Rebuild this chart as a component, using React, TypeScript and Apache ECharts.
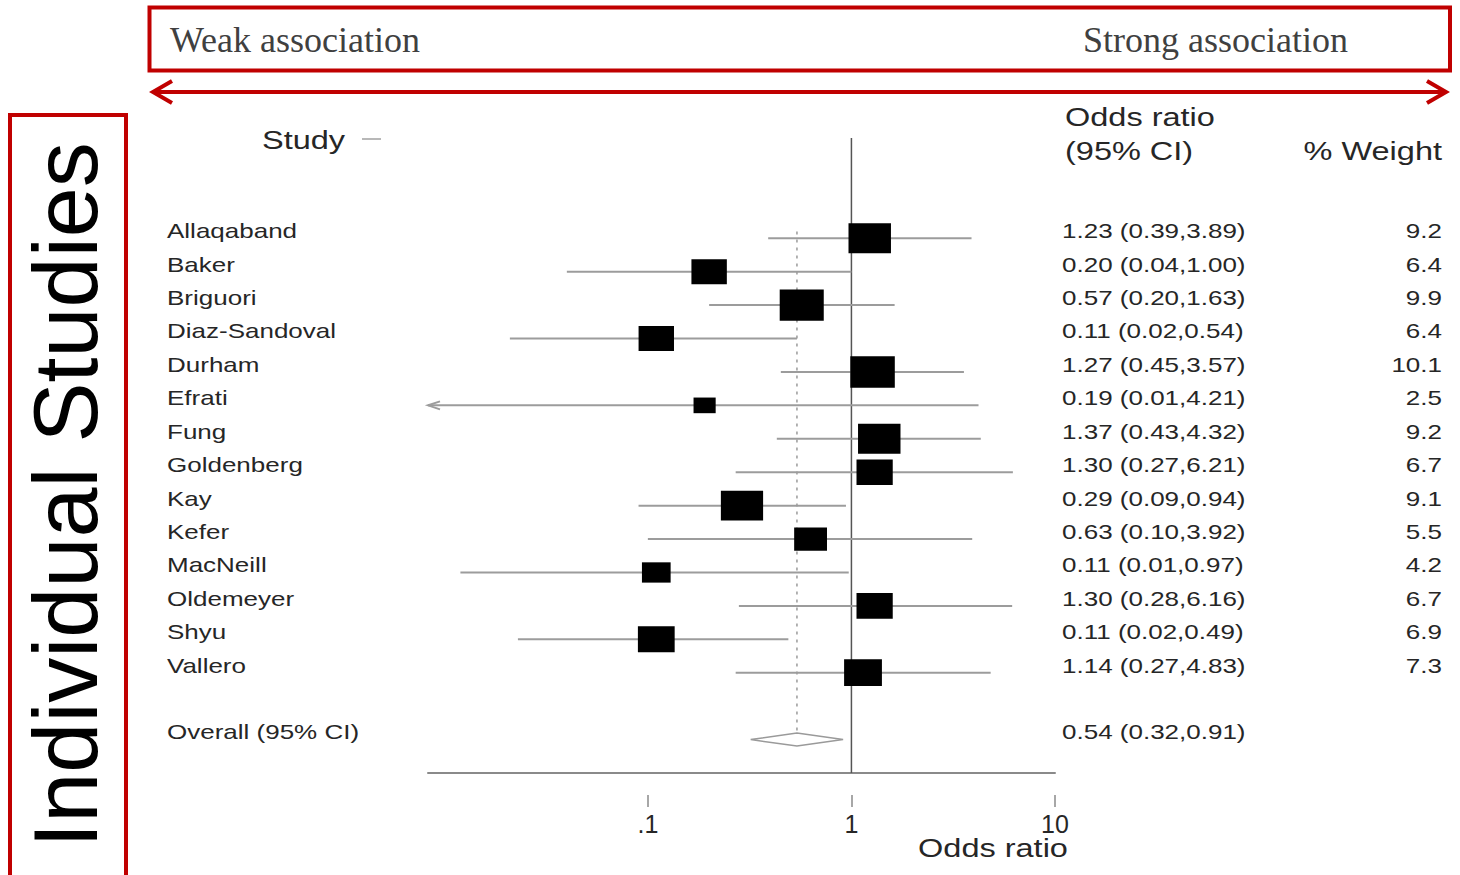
import React, { useEffect, useRef } from "react";
import * as echarts from "echarts";

// ---------- data ----------
const studies = [
  "Allaqaband", "Baker", "Briguori", "Diaz-Sandoval", "Durham", "Efrati", "Fung",
  "Goldenberg", "Kay", "Kefer", "MacNeill", "Oldemeyer", "Shyu", "Vallero",
];
const oddsRatios = [1.23, 0.2, 0.57, 0.11, 1.27, 0.19, 1.37, 1.3, 0.29, 0.63, 0.11, 1.3, 0.11, 1.14];
const ciLower = [0.39, 0.04, 0.2, 0.021, 0.45, 0.008, 0.43, 0.27, 0.09, 0.1, 0.012, 0.28, 0.023, 0.27];
const ciUpper = [3.89, 1.0, 1.63, 0.54, 3.57, 4.21, 4.32, 6.21, 0.94, 3.92, 0.97, 6.16, 0.49, 4.83];
const weights = [9.2, 6.4, 9.9, 6.4, 10.1, 2.5, 9.2, 6.7, 9.1, 5.5, 4.2, 6.7, 6.9, 7.3];
const overallLabel = "Overall (95% CI)";
const overallValues = [0.54, 0.32, 0.91]; // OR, lower, upper
const overallRow = 15;
const xTickValues = [0.1, 1, 10];
const xTickLabels = [".1", "1", "10"];

// ---------- layout / style ----------
const X_MIN = -2.08;
const X_MAX = 1.0;
const Y_MIN = -3;
const Y_MAX = 16;
const FONT = "'Liberation Sans', Arial, Helvetica, sans-serif";
const SERIF = "'Liberation Serif', 'Times New Roman', serif";
const TEXT_COLOR = "#262626";
const STRETCH = 1.3;
const RED = "#c00000";

const lg = (v: number) => Math.log10(v);
const fmt = (v: number) => v.toFixed(2);

function txt(text: string, x: number, y: number, size: number, align: string, extra: any = {}) {
  return {
    type: "text",
    x,
    y,
    scaleX: STRETCH,
    silent: true,
    style: {
      text,
      x: 0,
      y: 0,
      fontSize: size,
      fontFamily: FONT,
      fill: TEXT_COLOR,
      align,
      verticalAlign: "middle",
      textAlign: align,
      textVerticalAlign: "middle",
      ...extra,
    },
  };
}

export default function App() {
  const ref = useRef<HTMLDivElement>(null);

  useEffect(() => {
    document.body.style.margin = "0";
    document.body.style.overflow = "hidden";
    if (!ref.current) return;
    const chart = echarts.init(ref.current, undefined, { renderer: "svg" });

    const studyData = studies.map((_, i) => [i, lg(ciLower[i]), lg(oddsRatios[i]), lg(ciUpper[i]), weights[i]]);
    const overallData = [[overallRow, lg(overallValues[1]), lg(overallValues[0]), lg(overallValues[2])]];
    const tickLogs = xTickValues.map(lg);

    const option: any = {
      animation: false,
      backgroundColor: "#ffffff",
      grid: { left: 428, right: 405, top: 138, bottom: 102 },
      xAxis: [
        {
          type: "value",
          min: X_MIN,
          max: X_MAX,
          position: "bottom",
          axisLine: { show: true, onZero: false, lineStyle: { color: "#8a8a8a", width: 2 } },
          axisTick: { show: false },
          axisLabel: { show: false },
          splitLine: { show: false },
        },
        {
          type: "value",
          min: X_MIN,
          max: X_MAX,
          position: "bottom",
          offset: 22,
          axisLine: { show: false, onZero: false },
          axisTick: {
            show: true,
            length: 12,
            customValues: tickLogs,
            lineStyle: { color: "#8a8a8a", width: 1.5 },
          },
          axisLabel: {
            show: true,
            customValues: tickLogs,
            margin: 16,
            fontSize: 25,
            fontFamily: FONT,
            color: TEXT_COLOR,
            formatter: (v: number) => {
              const idx = tickLogs.findIndex((t) => Math.abs(t - v) < 1e-6);
              return idx >= 0 ? xTickLabels[idx] : "";
            },
          },
          splitLine: { show: false },
        },
      ],
      yAxis: { type: "value", min: Y_MIN, max: Y_MAX, inverse: true, show: false },
      series: [
        {
          type: "line",
          xAxisIndex: 0,
          data: [[0, Y_MIN], [0, Y_MAX]],
          symbol: "none",
          silent: true,
          lineStyle: { color: "#555555", width: 1.5 },
          z: 1,
        },
        {
          type: "line",
          xAxisIndex: 0,
          data: [[lg(overallValues[0]), -0.2], [lg(overallValues[0]), overallRow - 0.2]],
          symbol: "none",
          silent: true,
          lineStyle: { color: "#9a9a9a", width: 1.5, type: [3, 5] },
          z: 1,
        },
        {
          type: "custom",
          xAxisIndex: 0,
          data: studyData,
          encode: { x: 2, y: 0 },
          z: 3,
          silent: true,
          renderItem: (params: any, api: any) => {
            const i = params.dataIndex;
            const row = api.value(0);
            const lo = api.value(1);
            const or = api.value(2);
            const hi = api.value(3);
            const w = api.value(4);
            const [xo, yc] = api.coord([or, row]);
            const xl = api.coord([Math.max(lo, X_MIN), row])[0];
            const xh = api.coord([Math.min(hi, X_MAX), row])[0];
            const s = Math.sqrt(w);
            const bw = 14 * s;
            const bh = 9.9 * s;
            const children: any[] = [
              {
                type: "line",
                shape: { x1: xl, y1: yc, x2: xh, y2: yc },
                style: { stroke: "#9c9c9c", lineWidth: 2 },
              },
            ];
            if (lo < X_MIN) {
              children.push({
                type: "polyline",
                shape: { points: [[xl + 12, yc - 4], [xl, yc], [xl + 12, yc + 4]] },
                style: { stroke: "#9c9c9c", lineWidth: 2, fill: "none" },
              });
            }
            children.push({
              type: "rect",
              shape: { x: xo - bw / 2, y: yc - bh / 2, width: bw, height: bh },
              style: { fill: "#000000" },
            });
            children.push(txt(studies[i], 167, yc - 7, 20, "left"));
            children.push(
              txt(`${fmt(oddsRatios[i])} (${fmt(ciLower[i])},${fmt(ciUpper[i])})`, 1062, yc - 7, 20, "left")
            );
            children.push(txt(weights[i].toFixed(1), 1442, yc - 7, 20, "right"));
            return { type: "group", children };
          },
        },
        {
          type: "custom",
          xAxisIndex: 0,
          data: overallData,
          encode: { x: 2, y: 0 },
          z: 3,
          silent: true,
          renderItem: (params: any, api: any) => {
            const row = api.value(0);
            const [xo, yc] = api.coord([api.value(2), row]);
            const xl = api.coord([api.value(1), row])[0];
            const xh = api.coord([api.value(3), row])[0];
            const h = 6.5;
            return {
              type: "group",
              children: [
                {
                  type: "polygon",
                  shape: { points: [[xl, yc], [xo, yc - h], [xh, yc], [xo, yc + h]] },
                  style: { stroke: "#9a9a9a", lineWidth: 1.5, fill: "#ffffff" },
                },
                txt(overallLabel, 167, yc - 7, 20, "left"),
                txt(
                  `${fmt(overallValues[0])} (${fmt(overallValues[1])},${fmt(overallValues[2])})`,
                  1062,
                  yc - 7,
                  20,
                  "left"
                ),
              ],
            };
          },
        },
      ],
      graphic: [
        // top box
        {
          type: "rect",
          silent: true,
          shape: { x: 149.5, y: 7.5, width: 1300.5, height: 63 },
          style: { stroke: RED, lineWidth: 4, fill: "none" },
        },
        {
          type: "text",
          silent: true,
          x: 170,
          y: 40,
          style: {
            text: "Weak association",
            fontSize: 36,
            fontFamily: SERIF,
            fill: "#404040",
            align: "left",
            verticalAlign: "middle",
            textAlign: "left",
            textVerticalAlign: "middle",
          },
        },
        {
          type: "text",
          silent: true,
          x: 1083,
          y: 40,
          style: {
            text: "Strong association",
            fontSize: 36,
            fontFamily: SERIF,
            fill: "#404040",
            align: "left",
            verticalAlign: "middle",
            textAlign: "left",
            textVerticalAlign: "middle",
          },
        },
        // double arrow
        {
          type: "line",
          silent: true,
          shape: { x1: 153, y1: 92, x2: 1446, y2: 92 },
          style: { stroke: RED, lineWidth: 4 },
        },
        {
          type: "polyline",
          silent: true,
          shape: { points: [[172, 81], [153, 92], [172, 103]] },
          style: { stroke: RED, lineWidth: 4, fill: "none" },
        },
        {
          type: "polyline",
          silent: true,
          shape: { points: [[1427, 81], [1446, 92], [1427, 103]] },
          style: { stroke: RED, lineWidth: 4, fill: "none" },
        },
        // left box
        {
          type: "rect",
          silent: true,
          shape: { x: 10, y: 115, width: 116, height: 800 },
          style: { stroke: RED, lineWidth: 4, fill: "none" },
        },
        {
          type: "text",
          silent: true,
          x: 66,
          y: 495,
          rotation: Math.PI / 2,
          style: {
            text: "Individual Studies",
            fontSize: 90,
            fontFamily: FONT,
            fill: "#000000",
            align: "center",
            verticalAlign: "middle",
            textAlign: "center",
            textVerticalAlign: "middle",
          },
        },
        // headers
        txt("Study", 262, 140, 25, "left"),
        {
          type: "line",
          silent: true,
          shape: { x1: 362, y1: 139, x2: 381, y2: 139 },
          style: { stroke: "#a0a0a0", lineWidth: 1.5 },
        },
        txt("Odds ratio", 1065, 117, 25, "left"),
        txt("(95% CI)", 1065, 151, 25, "left"),
        txt("% Weight", 1442, 151, 25, "right"),
        txt("Odds ratio", 993, 848, 25, "center"),
      ],
    };

    chart.setOption(option);
    return () => chart.dispose();
  }, []);

  return <div ref={ref} style={{ width: 1460, height: 875 }} />;
}
